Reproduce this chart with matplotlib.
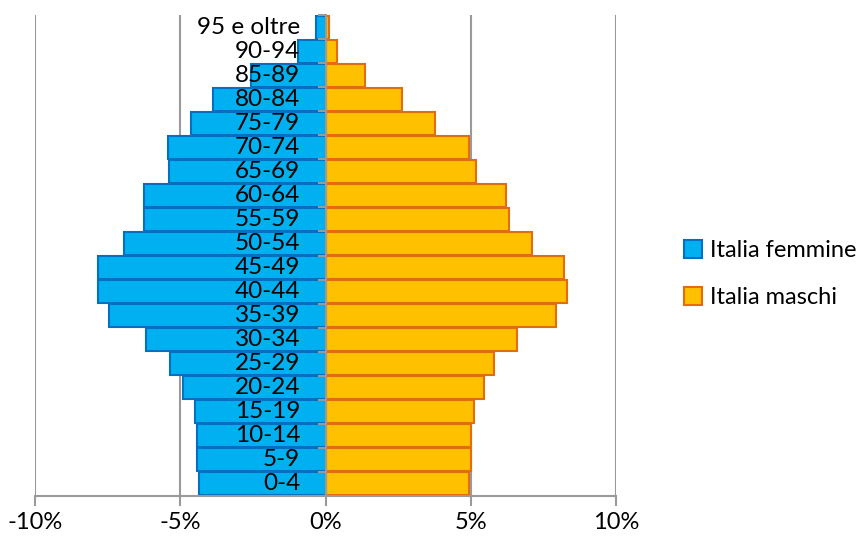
import matplotlib
matplotlib.use("Agg")
import matplotlib.pyplot as plt
from matplotlib.patches import Patch
from matplotlib.ticker import FuncFormatter

plt.rcParams['font.family'] = ['Lato', 'DejaVu Sans']

age_groups = ["0-4", "5-9", "10-14", "15-19", "20-24", "25-29", "30-34",
              "35-39", "40-44", "45-49", "50-54", "55-59", "60-64", "65-69",
              "70-74", "75-79", "80-84", "85-89", "90-94", "95 e oltre"]

# percentage of total population (females shown as negatives)
femmine = [-4.37, -4.41, -4.41, -4.50, -4.91, -5.35, -6.19, -7.44, -7.84,
           -7.84, -6.95, -6.26, -6.24, -5.38, -5.43, -4.64, -3.89, -2.58,
           -0.96, -0.34]
maschi = [4.92, 5.00, 5.01, 5.11, 5.45, 5.78, 6.60, 7.93, 8.29, 8.21, 7.09,
          6.30, 6.21, 5.17, 4.93, 3.76, 2.62, 1.34, 0.39, 0.11]

x_ticks = [-10, -5, 0, 5, 10]
series_names = ["Italia femmine", "Italia maschi"]

blue_fill, blue_edge = "#00B0F0", "#0070C0"
orange_fill, orange_edge = "#FFC000", "#E46C0A"
grid_gray = "#9A9A9A"

fig = plt.figure(figsize=(8.61, 5.39), dpi=100)
ax = fig.add_axes([0.0407, 0.0803, 0.675, 0.8913])

ypos = list(range(len(age_groups)))
ax.barh(ypos, femmine, height=0.96, color=blue_fill, edgecolor=blue_edge,
        linewidth=1.5, zorder=2)
ax.barh(ypos, maschi, height=0.96, color=orange_fill, edgecolor=orange_edge,
        linewidth=1.5, zorder=2)

for y, lab in zip(ypos, age_groups):
    ax.text(-0.88, y, lab, ha="right", va="center", fontsize=17.5,
            color="black", zorder=6)

ax.set_xlim(-10, 10)
ax.set_ylim(-0.5, len(age_groups) - 0.5)

# vertical gridlines behind the bars
for xt in x_ticks:
    ax.axvline(xt, color=grid_gray, linewidth=1.5, zorder=0.5)

ax.set_xticks(x_ticks)
ax.xaxis.set_major_formatter(FuncFormatter(lambda v, p: f"{v:.0f}%"))
ax.tick_params(axis="x", length=7, width=1.5, color=grid_gray,
               labelsize=17, pad=5, direction="out")

# category axis at zero, with boundary ticks
ax.spines["left"].set_position(("data", 0))
ax.spines["left"].set_color(grid_gray)
ax.spines["left"].set_linewidth(1.5)
ax.spines["left"].set_zorder(5)
ax.set_yticks([i - 0.5 for i in range(len(age_groups) + 1)])
ax.set_yticklabels([])
ax.tick_params(axis="y", length=6, width=1.5, color=grid_gray,
               direction="out")
ax.yaxis.set_zorder(5)

ax.spines["bottom"].set_color(grid_gray)
ax.spines["bottom"].set_linewidth(1.5)
ax.spines["top"].set_visible(False)
ax.spines["right"].set_visible(False)

handles = [Patch(facecolor=blue_fill, edgecolor=blue_edge, linewidth=1.5),
           Patch(facecolor=orange_fill, edgecolor=orange_edge, linewidth=1.5)]
fig.legend(handles, series_names,
           loc="center left", bbox_to_anchor=(0.781, 0.491), frameon=False,
           fontsize=17, handlelength=0.75, handleheight=0.75,
           handletextpad=0.35, labelspacing=1.1, borderpad=0)

fig.savefig("out.png", dpi=100)
